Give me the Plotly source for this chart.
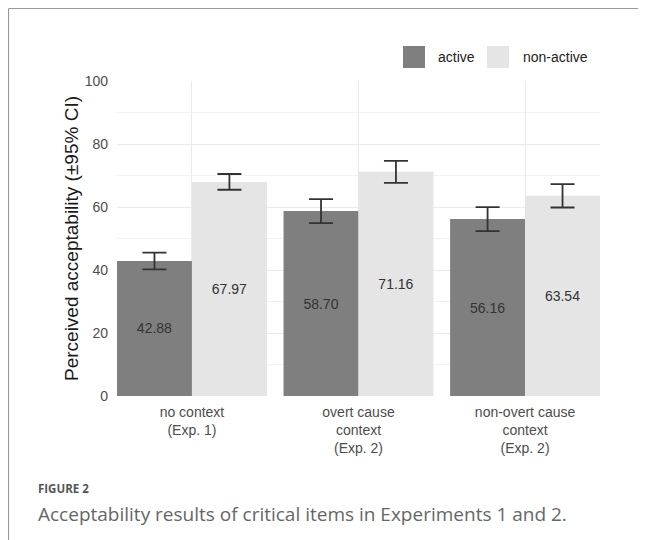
import plotly.graph_objects as go

categories = ["no context<br>(Exp. 1)", "overt cause<br>context<br>(Exp. 2)", "non-overt cause<br>context<br>(Exp. 2)"]
active_vals = [42.88, 58.70, 56.16]
active_ci = [2.65, 3.8, 3.8]
nonactive_vals = [67.97, 71.16, 63.54]
nonactive_ci = [2.5, 3.5, 3.7]
y_ticks = [0, 20, 40, 60, 80, 100]

# page body has an 8px margin, so the figure occupies 8..646 x 8..540 of the window
OFF = 8
W, H = 638, 532
L, R, T, B = 109, 46, 73, 144
PW, PH = W - L - R, H - T - B

def px(x):
    return (x - OFF - L) / PW

def py(y):
    return (H - B - (y - OFF)) / PH

fig = go.Figure()
err_style = dict(type="data", visible=True, color="#333333", thickness=1.8, width=12)
label_font = dict(color="#333333", size=14, family="Liberation Sans")
fig.add_trace(go.Bar(
    x=categories, y=active_vals, name="active",
    marker=dict(color="#7f7f7f", line=dict(width=0)),
    error_y=dict(array=active_ci, **err_style),
    text=[f"{v:.2f}" for v in active_vals], textposition="inside",
    insidetextanchor="middle", textfont=label_font, textangle=0,
))
fig.add_trace(go.Bar(
    x=categories, y=nonactive_vals, name="non-active",
    marker=dict(color="#e5e5e5", line=dict(width=0)),
    error_y=dict(array=nonactive_ci, **err_style),
    text=[f"{v:.2f}" for v in nonactive_vals], textposition="inside",
    insidetextanchor="middle", textfont=label_font, textangle=0,
))

shapes = [
    dict(type="line", xref="paper", yref="paper", x0=px(8.5), x1=px(646), y0=py(8.5), y1=py(8.5),
         line=dict(color="#9a9a9a", width=1.2)),
    dict(type="line", xref="paper", yref="paper", x0=px(8.5), x1=px(8.5), y0=py(8.5), y1=py(540),
         line=dict(color="#9a9a9a", width=1.2)),
    dict(type="rect", xref="paper", yref="paper", x0=px(403), x1=px(425), y0=py(46), y1=py(68),
         fillcolor="#7f7f7f", line=dict(width=0)),
    dict(type="rect", xref="paper", yref="paper", x0=px(487), x1=px(509), y0=py(46), y1=py(68),
         fillcolor="#e5e5e5", line=dict(width=0)),
]

annotations = [
    dict(text="active", xref="paper", yref="paper", x=px(436), y=py(57), xanchor="left", yanchor="middle",
         showarrow=False, font=dict(size=14, color="#222222", family="Liberation Sans")),
    dict(text="non-active", xref="paper", yref="paper", x=px(521), y=py(57), xanchor="left", yanchor="middle",
         showarrow=False, font=dict(size=14, color="#222222", family="Liberation Sans")),
    dict(text="<b>FIGURE 2</b>", xref="paper", yref="paper", x=px(36), y=py(488), xanchor="left", yanchor="middle",
         showarrow=False, font=dict(size=11.5, color="#555555", family="Open Sans")),
    dict(text="Acceptability results of critical items in Experiments 1 and 2.", xref="paper", yref="paper",
         x=px(36), y=py(514), xanchor="left", yanchor="middle",
         showarrow=False, font=dict(size=19, color="#666666", family="Open Sans")),
]

fig.update_layout(
    width=W, height=H,
    margin=dict(l=L, r=R, t=T, b=B, pad=0),
    paper_bgcolor="white", plot_bgcolor="white",
    barmode="group", bargap=0.1, bargroupgap=0,
    showlegend=False,
    shapes=shapes, annotations=annotations,
    font=dict(family="Liberation Sans"),
    xaxis=dict(
        range=[-0.45, 2.45], showgrid=True, gridcolor="#ebebeb", gridwidth=1,
        tickfont=dict(size=14, color="#4d4d4d"), ticks="", ticklabelstandoff=6,
        showline=False, zeroline=False,
    ),
    yaxis=dict(
        range=[0, 100], tickvals=y_ticks, showgrid=True, gridcolor="#ebebeb", gridwidth=1,
        minor=dict(dtick=10, showgrid=True, gridcolor="#f2f2f2", gridwidth=1),
        tickfont=dict(size=14, color="#4d4d4d"), ticks="", ticklabelstandoff=8,
        zeroline=False, showline=False,
        title=dict(text="Perceived acceptability (±95% CI)", font=dict(size=19, color="#1a1a1a"), standoff=0),
    ),
)

fig.write_html("out.html")
